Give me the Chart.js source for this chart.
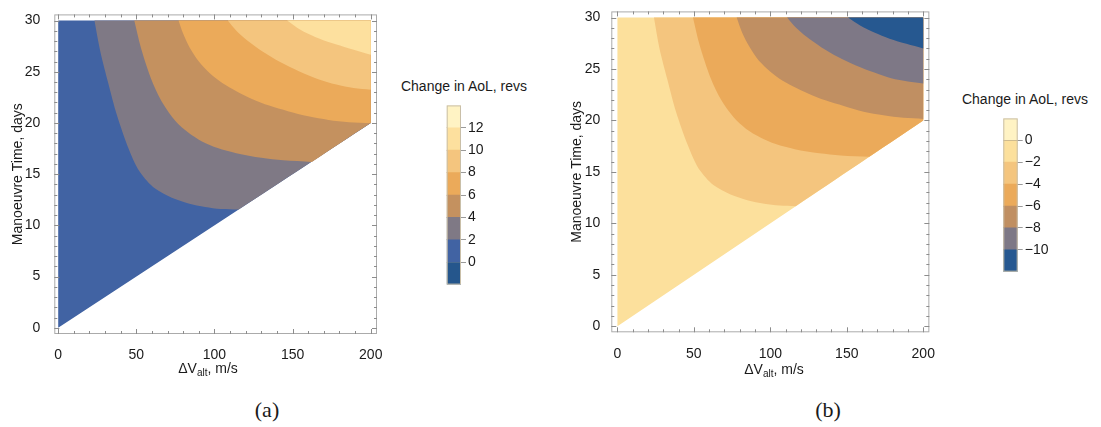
<!DOCTYPE html>
<html>
<head>
<meta charset="utf-8">
<script src="https://cdn.jsdelivr.net/npm/chart.js@4.4.1/dist/chart.umd.min.js"></script>
<style>
  body { margin: 0; width: 1101px; height: 427px; background: #fff; position: relative; overflow: hidden;
         font-family: "Liberation Sans", Arial, sans-serif; color: #1a1a1a; }
  canvas { position: absolute; }
  .lbl { position: absolute; transform: translate(-50%, -50%); white-space: nowrap; font-size: 14px; line-height: 1; }
  .lbl sub { font-size: 10px; vertical-align: -3px; }
  .cap { position: absolute; transform: translate(-50%, -50%); font-family: "Liberation Serif", serif; font-size: 22px; line-height: 1; }
</style>
</head>
<body>
<canvas id="plotA" width="390" height="360" style="left:0;top:0"></canvas>
<canvas id="barA" width="60" height="200" style="left:440px;top:95px"></canvas>
<canvas id="plotB" width="400" height="360" style="left:540px;top:0"></canvas>
<canvas id="barB" width="100" height="175" style="left:995px;top:108px"></canvas>

<div class="lbl" style="left:464px;top:86px">Change in AoL, revs</div>
<div class="lbl" style="left:1025px;top:99px">Change in AoL, revs</div>
<div class="lbl" style="left:208px;top:369px">ΔV<sub>alt</sub>, m/s</div>
<div class="lbl" style="left:774px;top:370px">ΔV<sub>alt</sub>, m/s</div>
<div class="cap" style="left:267px;top:410px">(a)</div>
<div class="cap" style="left:828px;top:410px">(b)</div>

<script>
// axis ticks
const xTicks = [0, 50, 100, 150, 200];
const yTicks = [0, 5, 10, 15, 20, 25, 30];

// feasible region (nothing below T = dV/10)
const domainX = [0, 0, 200, 200];
const domainY = [0, 30, 30, 20];

// (a) contour lines
const a2X = [23.2, 26.9, 32, 37.5, 45, 51, 57, 62, 72.7, 83.4, 94, 104, 115.5];
const a2Y = [30, 27, 23.9, 20.8, 17.5, 15.5, 14.3, 13.6, 12.7, 12.15, 11.8, 11.6, 11.55];
const a4X = [48.7, 53, 60, 67, 75, 83, 92, 102, 114, 130, 144, 162.3];
const a4Y = [30, 27.3, 24.1, 21.9, 20.2, 19.1, 18.2, 17.55, 17.05, 16.6, 16.35, 16.2];
const a6X = [77, 80, 84, 90, 97, 105, 114, 124, 135, 147, 160, 173, 186, 200];
const a6Y = [30, 28.7, 27.4, 26.0, 24.85, 23.9, 23.1, 22.35, 21.7, 21.15, 20.65, 20.3, 20.08, 20];
const a8X = [108.5, 114, 121, 131, 142, 154, 166, 178, 189, 200];
const a8Y = [30, 29.0, 28.05, 26.95, 25.95, 25.05, 24.3, 23.75, 23.42, 23.25];
const a10X = [146.5, 155, 164.4, 175, 185.7, 200];
const a10Y = [30, 29.1, 28.4, 27.8, 27.3, 26.65];
const colorsA = ['#4163A3', '#7F7985', '#C4915F', '#EBAA5A', '#F4C57E', '#FDE09E'];

// (b) contour lines
const b0X = [23.9, 27.5, 32.7, 38.3, 46, 52, 58, 63, 74, 85, 96, 106, 116.6];
const b0Y = [30, 27, 23.95, 20.85, 17.6, 15.6, 14.4, 13.7, 12.8, 12.25, 11.9, 11.72, 11.66];
const b2X = [49.4, 53.8, 61, 68, 76, 84, 93.5, 103.5, 116, 132, 146, 164.7];
const b2Y = [30, 27.3, 24.1, 21.95, 20.3, 19.2, 18.35, 17.7, 17.2, 16.8, 16.6, 16.47];
const b4X = [78, 81, 85, 91, 98, 106, 115, 125, 136, 148, 161, 174, 187, 200];
const b4Y = [30, 28.75, 27.5, 26.1, 25.0, 24.05, 23.3, 22.6, 21.95, 21.4, 20.85, 20.5, 20.25, 20.15];
const b6X = [111, 116.5, 123.5, 133.5, 144, 156, 168, 179, 190, 200];
const b6Y = [30, 29.05, 28.15, 27.1, 26.2, 25.35, 24.65, 24.1, 23.78, 23.6];
const b8X = [150.8, 159, 168, 178, 189, 200];
const b8Y = [30, 29.2, 28.55, 27.95, 27.45, 27.0];
const colorsB = ['#FCE09C', '#F4C57E', '#EBAA5A', '#C08F62', '#7E7886', '#265890'];

// colour bars
const legendLevelsA = [-2, 0, 2, 4, 6, 8, 10, 12, 14];
const legendColorsA = ['#25568C', '#4163A3', '#7F7985', '#C4915F', '#EBAA5A', '#F4C57E', '#FDE09E', '#FFF3C4'];
const legendTicksA = [0, 2, 4, 6, 8, 10, 12];
const legendLevelsB = [-12, -10, -8, -6, -4, -2, 0, 2];
const legendColorsB = ['#265890', '#7E7886', '#C08F62', '#EBAA5A', '#F4C57E', '#FCE09C', '#FFF3C4'];
const legendTicksB = [-10, -8, -6, -4, -2, 0];

Chart.defaults.font.family = '"Liberation Sans", Arial, sans-serif';
Chart.defaults.font.size = 14;
Chart.defaults.color = '#1a1a1a';

const toPts = (xs, ys) => xs.map((x, i) => ({ x, y: ys[i] }));

// region above a contour line, closed along the diagonal and the right edge.
// corner points are doubled so the spline keeps them sharp
const bandShape = (xs, ys) => {
  const pts = toPts(xs, ys);
  const end = pts[pts.length - 1];
  pts.push({ ...end });
  if (end.x < domainX[2]) {
    pts.push({ x: domainX[3], y: domainY[3] }, { x: domainX[3], y: domainY[3] });
  }
  pts.push({ x: domainX[2], y: domainY[2] }, { x: domainX[2], y: domainY[2] });
  return pts;
};

const fmt = v => v < 0 ? '\u2212' + Math.abs(v) : String(v);

// Mathematica-like frame with inward ticks on all sides
const frameTicks = {
  id: 'frameTicks',
  afterDatasetsDraw(chart) {
    const { ctx, chartArea: a, scales: { x, y } } = chart;
    ctx.save();
    ctx.lineWidth = 1;
    ctx.strokeStyle = '#ababab';
    ctx.strokeRect(a.left + 0.5, a.top + 0.5, a.right - a.left - 1, a.bottom - a.top - 1);
    ctx.strokeStyle = '#8c8c8c';
    ctx.beginPath();
    for (let v = 0; v <= 200; v += 10) {
      const px = Math.round(x.getPixelForValue(v)) + 0.5;
      const len = v % 50 === 0 ? 5 : 3;
      ctx.moveTo(px, a.bottom); ctx.lineTo(px, a.bottom - len);
      ctx.moveTo(px, a.top); ctx.lineTo(px, a.top + len);
    }
    for (let v = 0; v <= 30; v += 1) {
      const py = Math.round(y.getPixelForValue(v)) + 0.5;
      const len = v % 5 === 0 ? 5 : 3;
      ctx.moveTo(a.left, py); ctx.lineTo(a.left + len, py);
      ctx.moveTo(a.right, py); ctx.lineTo(a.right - len, py);
    }
    ctx.stroke();
    ctx.restore();
  }
};

const barFrame = {
  id: 'barFrame',
  afterDraw(chart) {
    const { ctx, chartArea: a } = chart;
    ctx.save();
    ctx.strokeStyle = '#c9bfa8';
    ctx.lineWidth = 1;
    ctx.strokeRect(a.left + 0.5, a.top + 0.5, a.right - a.left - 1, a.bottom - a.top - 1);
    ctx.restore();
  }
};

const makePlot = (id, bands, colors, geo) => {
  // painter's order: the whole triangle first, each higher band on top of it
  const datasets = bands.map((pts, i) => ({
    data: pts,
    showLine: true,
    fill: 'shape',
    backgroundColor: colors[i],
    borderColor: 'rgba(0,0,0,0)',
    borderWidth: 0,
    pointRadius: 0,
    tension: i === 0 ? 0 : 0.3
  })).reverse();

  return new Chart(document.getElementById(id), {
    type: 'scatter',
    data: { datasets },
    options: {
      responsive: false,
      animation: false,
      events: [],
      layout: { padding: geo.padding },
      plugins: { legend: { display: false }, tooltip: { enabled: false } },
      scales: {
        x: {
          type: 'linear', min: geo.xMin, max: 204,
          afterBuildTicks: s => { s.ticks = xTicks.map(v => ({ value: v })); },
          afterFit: s => { s.height = geo.xHeight; },
          grid: { display: false },
          border: { display: false },
          ticks: { padding: 5, maxRotation: 0 }
        },
        y: {
          type: 'linear', min: -0.6, max: 30.6,
          afterBuildTicks: s => { s.ticks = yTicks.map(v => ({ value: v })); },
          afterFit: s => { s.width = geo.yWidth; },
          grid: { display: false },
          border: { display: false },
          ticks: { padding: geo.yPad },
          title: { display: true, text: 'Manoeuvre Time, days', padding: { top: geo.titlePad, bottom: 0 } }
        }
      }
    },
    plugins: [frameTicks]
  });
};

const makeBar = (id, levels, colors, ticks, geo) => {
  const datasets = colors.map((c, i) => ({
    data: [[levels[i], levels[i + 1]]],
    backgroundColor: c,
    borderWidth: 0,
    grouped: false,
    barPercentage: 1,
    categoryPercentage: 1
  }));
  return new Chart(document.getElementById(id), {
    type: 'bar',
    data: { labels: [''], datasets },
    options: {
      responsive: false,
      animation: false,
      events: [],
      layout: { padding: geo.padding },
      plugins: { legend: { display: false }, tooltip: { enabled: false } },
      scales: {
        x: { display: false },
        y: {
          position: 'right',
          min: levels[0], max: levels[levels.length - 1],
          z: 1,
          afterBuildTicks: s => { s.ticks = ticks.map(v => ({ value: v })); },
          afterFit: s => { s.width = geo.yWidth; },
          grid: { color: geo.lineColor, tickColor: '#9a9a9a', tickLength: 5, drawOnChartArea: true },
          border: { display: false },
          ticks: { padding: 2, callback: v => fmt(v) }
        }
      }
    },
    plugins: [barFrame]
  });
};

makePlot('plotA', [
  toPts(domainX, domainY),
  bandShape(a2X, a2Y),
  bandShape(a4X, a4Y),
  bandShape(a6X, a6Y),
  bandShape(a8X, a8Y),
  bandShape(a10X, a10Y)
], colorsA, {
  padding: { left: 0, top: 8.7, right: 13, bottom: 0 },
  xMin: -2.5, xHeight: 26, yWidth: 54.3, yPad: 6, titlePad: 10
});

makePlot('plotB', [
  toPts(domainX, domainY),
  bandShape(b0X, b0Y),
  bandShape(b2X, b2Y),
  bandShape(b4X, b4Y),
  bandShape(b6X, b6Y),
  bandShape(b8X, b8Y)
], colorsB, {
  padding: { left: 0, top: 8.3, right: 4.3, bottom: 0 },
  xMin: -4, xHeight: 27.7, yWidth: 71.3, yPad: 3, titlePad: 28.3
});

makeBar('barA', legendLevelsA, legendColorsA, legendTicksA, {
  padding: { left: 6.7, top: 7.3, right: 0, bottom: 10 },
  yWidth: 39, lineColor: 'rgba(80,62,40,0.45)'
});

makeBar('barB', legendLevelsB, legendColorsB, legendTicksB, {
  padding: { left: 8.3, top: 7, right: 0, bottom: 11.3 },
  yWidth: 77.3, lineColor: 'rgba(80,62,40,0.7)'
});
</script>
</body>
</html>
